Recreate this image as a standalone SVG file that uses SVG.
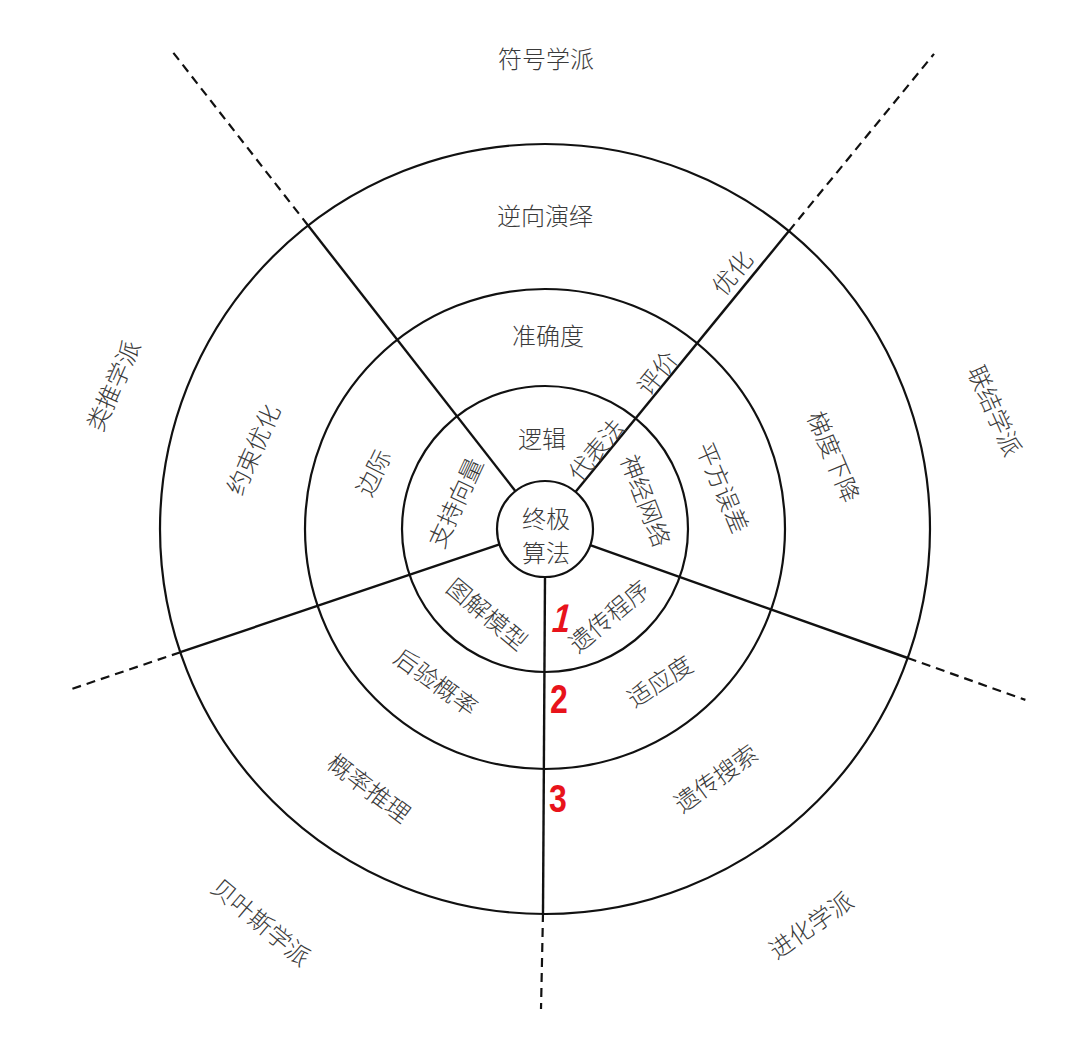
<svg xmlns="http://www.w3.org/2000/svg" width="1080" height="1042" viewBox="0 0 1080 1042">
<style>
.ring{fill:none;stroke:#111;stroke-width:2.2}
.sol{stroke:#111;stroke-width:2.4;fill:none}
.dash{stroke:#111;stroke-width:2.2;stroke-dasharray:9 6;fill:none}
.lb{font-family:"Noto Sans CJK SC","Noto Sans",sans-serif;font-size:24px;font-weight:300;fill:#3a3a3a;text-anchor:middle;dominant-baseline:central}
.num{font-family:"Liberation Sans","DejaVu Sans",sans-serif;font-size:40px;font-weight:bold;fill:#e8131b;text-anchor:middle}
</style>
<rect width="1080" height="1042" fill="#ffffff"/>
<g id="rings">
<circle id="ring0" class="ring" cx="545" cy="529" r="48"/>
<circle id="ring1" class="ring" cx="545" cy="529" r="143"/>
<circle id="ring2" class="ring" cx="545" cy="529" r="240"/>
<circle id="ring3" class="ring" cx="545" cy="529" r="385"/>
</g>
<g id="connectors">
<line class="sol" x1="515.5" y1="491.2" x2="308.1" y2="225.5"/>
<line class="dash" x1="308.1" y1="225.5" x2="169.7" y2="48.1"/>
<line class="sol" x1="575.4" y1="491.9" x2="788.9" y2="231.1"/>
<line class="dash" x1="788.9" y1="231.1" x2="934" y2="53.9"/>
<line class="sol" x1="590.2" y1="545.1" x2="907.7" y2="658"/>
<line class="dash" x1="907.7" y1="658" x2="1025.4" y2="699.9"/>
<line class="sol" x1="499.5" y1="544.4" x2="180.4" y2="652.2"/>
<line class="dash" x1="180.4" y1="652.2" x2="68.7" y2="690"/>
<line class="sol" x1="545" y1="577" x2="543" y2="913"/>
<line class="dash" x1="543" y1="913" x2="541" y2="1009"/>
</g>
<g id="center"><text class="lb" x="546" y="517">终极</text><text class="lb" x="546" y="551">算法</text></g>
<g id="symbolists">
<text class="lb" x="546" y="57">符号学派</text>
<text class="lb" x="545" y="214">逆向演绎</text>
<text class="lb" x="548" y="334">准确度</text>
<text class="lb" x="542" y="437">逻辑</text>
</g>
<g id="boundary-top-right">
<text class="lb" transform="translate(731 272) rotate(-51)">优化</text>
<text class="lb" transform="translate(656 372) rotate(-51)">评价</text>
<text class="lb" transform="translate(595 449) rotate(-50)">代表法</text>
</g>
<g id="connectionists">
<text class="lb" transform="translate(647 500) rotate(69)">神经网络</text>
<text class="lb" transform="translate(724 487) rotate(67)">平方误差</text>
<text class="lb" transform="translate(835 456) rotate(67)">梯度下降</text>
<text class="lb" transform="translate(996 410) rotate(66)">联结学派</text>
</g>
<g id="analogizers">
<text class="lb" transform="translate(112 385) rotate(-66)">类推学派</text>
<text class="lb" transform="translate(252 449) rotate(-66)">约束优化</text>
<text class="lb" transform="translate(372 472) rotate(-64)">边际</text>
<text class="lb" transform="translate(454 502) rotate(-65)">支持向量</text>
</g>
<g id="bayesians">
<text class="lb" transform="translate(488 613) rotate(40)">图解模型</text>
<text class="lb" transform="translate(437 681) rotate(36)">后验概率</text>
<text class="lb" transform="translate(370 787) rotate(37)">概率推理</text>
<text class="lb" transform="translate(262 921) rotate(40)">贝叶斯学派</text>
</g>
<g id="evolutionaries">
<text class="lb" transform="translate(608 615) rotate(-40)">遗传程序</text>
<text class="lb" transform="translate(659 680) rotate(-33)">适应度</text>
<text class="lb" transform="translate(715 777) rotate(-36)">遗传搜索</text>
<text class="lb" transform="translate(810 924) rotate(-35)">进化学派</text>
</g>
<g id="marks">
<text class="num" transform="translate(559 632) skewX(-14) scale(0.8 1)">1</text>
<text class="num" transform="translate(559 713) scale(0.8 1)">2</text>
<text class="num" transform="translate(558 812) scale(0.8 0.95)">3</text>
</g>
</svg>
